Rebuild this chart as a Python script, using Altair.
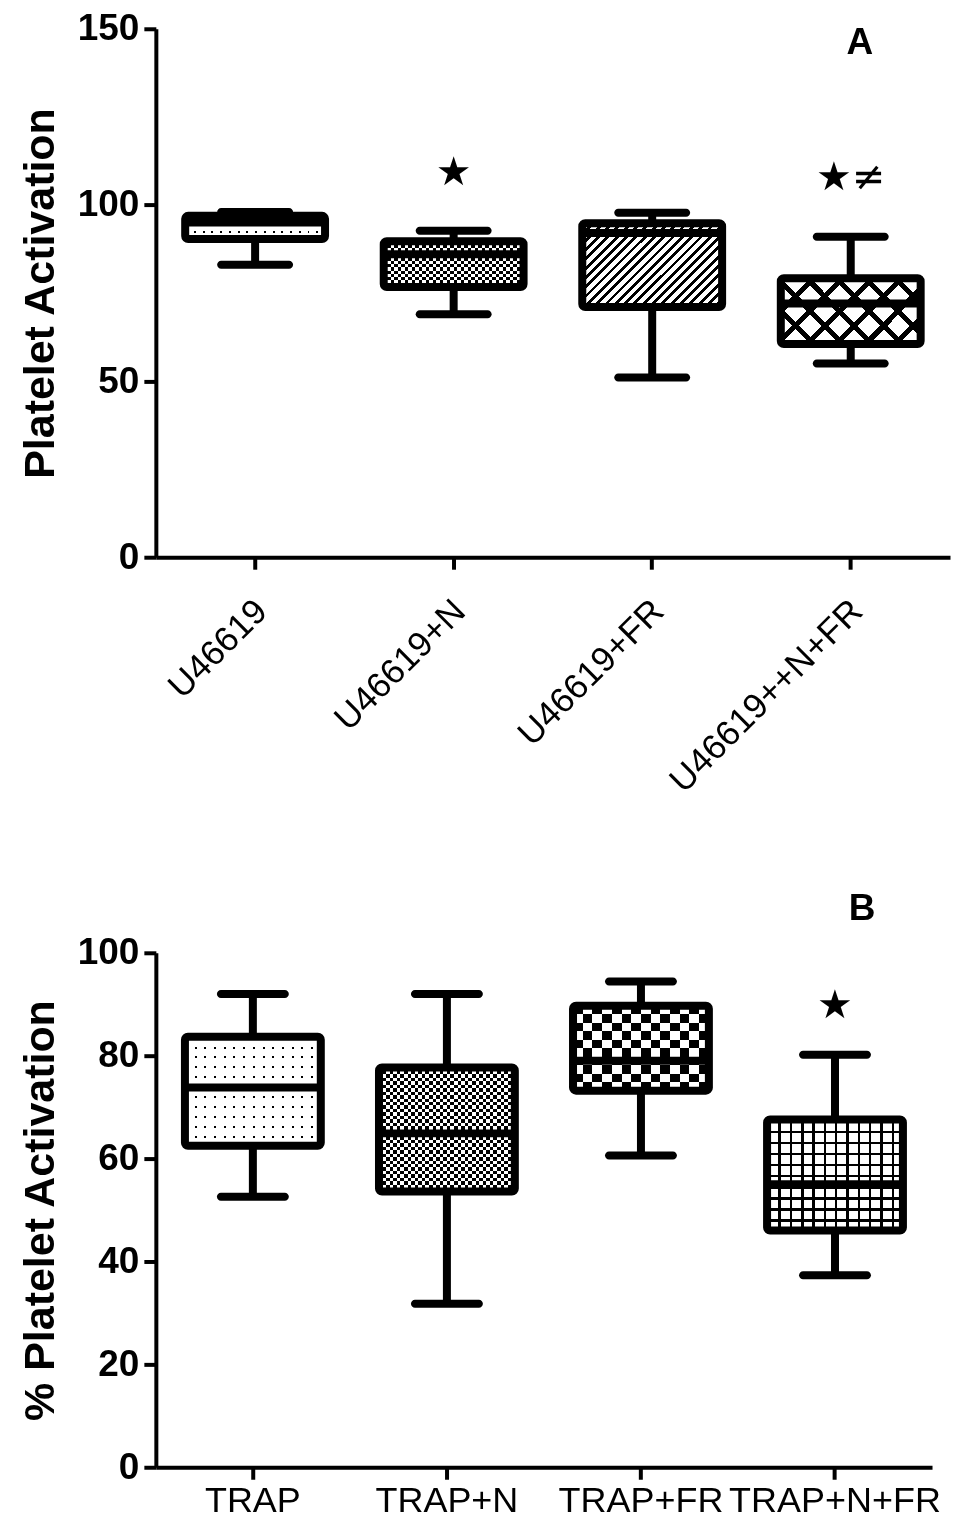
import altair as alt
import pandas as pd

# ---------------- data ----------------
top_groups = ["U46619", "U46619+N", "U46619+FR", "U46619++N+FR"]
top_low = [83, 69, 51, 55]
top_q1 = [90.3, 76.7, 71, 60.5]
top_median = [95, 86, 92, 72]
top_q3 = [96.9, 89.7, 94.8, 79.2]
top_high = [98, 92.7, 97.8, 91]
top_star_groups = ["U46619+N", "U46619++N+FR"]
top_star_values = [109, 107.5]
top_star_text = ["★", "★≠"]

bot_groups = ["TRAP", "TRAP+N", "TRAP+FR", "TRAP+N+FR"]
bot_low = [52.6, 31.8, 60.6, 37.3]
bot_q1 = [62.5, 53.6, 73.2, 46]
bot_median = [73.8, 64.9, 79, 55]
bot_q3 = [83.7, 77.7, 89.7, 67.6]
bot_high = [92, 92, 94.4, 80.2]
bot_star_groups = ["TRAP+N+FR"]
bot_star_values = [89.7]
bot_star_text = ["★"]

top_ticks = [0, 50, 100, 150]
bot_ticks = [0, 20, 40, 60, 80, 100]

FONT = "Liberation Sans"
LW = 8


# ---------------- fill patterns built from linear gradients ----------------
def stops(n, frac, on="black", off="white"):
    out = []
    for i in range(n):
        a = i / n
        b = (i + frac) / n
        c = (i + 1) / n
        out += [alt.GradientStop(offset=a, color=on), alt.GradientStop(offset=b, color=on),
                alt.GradientStop(offset=b, color=off), alt.GradientStop(offset=c, color=off)]
    return out


def grad(n, frac, direction, r=1.0, on="black", off="white"):
    if direction == "h":
        x1, y1, x2, y2 = 0, 0, 0, 1
    elif direction == "v":
        x1, y1, x2, y2 = 0, 0, 1, 0
    elif direction == "/":
        k = (1 + r) / (1 + r * r)
        x1, y1, x2, y2 = 0, 0, k, k * r
    else:
        k = (1 + r) / (1 + r * r)
        x1, y1, x2, y2 = 0, 1, k, 1 - k * r
    return alt.LinearGradient(gradient="linear", stops=stops(n, frac, on, off),
                              x1=x1, y1=y1, x2=x2, y2=y2)


top_fills = [
    (grad(3, 0.25, "h"), grad(16, 0.22, "v"), "lighten"),        # dots
    (grad(7, 0.5, "h"), grad(20, 0.5, "v"), "difference"),       # fine checker
    (grad(24, 0.42, "/", 0.6), None, None),                        # hatch
    (grad(7, 0.24, "/", 0.47), grad(7, 0.24, "\\", 0.47), "darken"),  # crosshatch
]
bot_fills = [
    (grad(11, 0.2, "h"), grad(14, 0.2, "v"), "lighten"),         # dots
    (grad(18, 0.5, "h"), grad(19, 0.5, "v"), "difference"),      # fine checker
    (grad(5, 0.5, "h"), grad(7, 0.5, "v"), "difference"),        # big checker
    (grad(10, 0.22, "h"), grad(12, 0.22, "v"), "darken"),        # grid
]


def panel(groups, low, q1, med, q3, high, fills, sg, sv, st, label, label_group, label_value,
          label_dx, ymax, yticks, ytitle, width, height, xangle, xfont, xpad, xoffset, boxw, capw):
    df = pd.DataFrame({"group": groups, "low": low, "q1": q1, "median": med,
                       "q3": q3, "high": high})
    xaxis = alt.Axis(title=None, labelAngle=xangle, labelFontSize=xfont, labelFont=FONT,
                     labelFontWeight="normal", labelPadding=xpad, labelOffset=xoffset,
                     domainWidth=4, domainColor="black", tickWidth=4, tickColor="black",
                     tickSize=12, labelColor="black", labelLimit=400)
    x = alt.X("group:N", sort=groups, scale=alt.Scale(paddingInner=0, paddingOuter=0),
              axis=xaxis)
    yaxis = alt.Axis(title=ytitle, values=yticks, labelFontSize=37, labelFontWeight="bold",
                     labelFont=FONT, titleFont=FONT, titleFontSize=43, titleFontWeight="bold",
                     titlePadding=15, labelPadding=5, domainWidth=4, domainColor="black",
                     tickWidth=4, tickColor="black", tickSize=12, labelColor="black",
                     titleColor="black", grid=False)
    ysc = alt.Scale(domain=[0, ymax], nice=False)

    def Y(field):
        return alt.Y(field, type="quantitative", scale=ysc, axis=yaxis)

    base = alt.Chart(df)
    layers = []
    for i, g in enumerate(groups):
        f0, f1, blend = fills[i]
        sub = base.transform_filter(alt.datum.group == g)
        layers.append(sub.mark_bar(fill=f0, size=boxw).encode(x=x, y=Y("q1"), y2="q3"))
        if f1 is not None:
            layers.append(sub.mark_bar(fill=f1, blend=blend, size=boxw)
                          .encode(x=x, y=Y("q1"), y2="q3"))
    # whiskers
    layers.append(base.mark_rule(color="black", strokeWidth=LW).encode(x=x, y=Y("q3"), y2="high"))
    layers.append(base.mark_rule(color="black", strokeWidth=LW).encode(x=x, y=Y("low"), y2="q1"))
    # caps
    layers.append(base.mark_tick(color="black", thickness=LW, size=capw, cornerRadius=4,
                                 opacity=1).encode(x=x, y=Y("high")))
    layers.append(base.mark_tick(color="black", thickness=LW, size=capw, cornerRadius=4,
                                 opacity=1).encode(x=x, y=Y("low")))
    # box outline
    layers.append(base.mark_bar(fillOpacity=0, stroke="black", strokeWidth=LW, cornerRadius=3,
                                size=boxw).encode(x=x, y=Y("q1"), y2="q3"))
    # median
    layers.append(base.mark_tick(color="black", thickness=LW, size=boxw, opacity=1)
                  .encode(x=x, y=Y("median")))
    # significance marks
    sdf = pd.DataFrame({"group": sg, "value": sv, "txt": st})
    layers.append(alt.Chart(sdf).mark_text(font="DejaVu Sans", fontSize=40, color="black",
                                           baseline="middle", align="center")
                  .encode(x=x, y=Y("value"), text="txt:N"))
    # panel letter
    ldf = pd.DataFrame({"group": [label_group], "value": [label_value], "txt": [label]})
    layers.append(alt.Chart(ldf).mark_text(font=FONT, fontSize=37, fontWeight="bold",
                                           color="black", baseline="middle", align="center",
                                           dx=label_dx)
                  .encode(x=x, y=Y("value"), text="txt:N"))
    return alt.layer(*layers).properties(width=width, height=height)


top = panel(top_groups, top_low, top_q1, top_median, top_q3, top_high, top_fills,
            top_star_groups, top_star_values, top_star_text, "A", "U46619++N+FR", 146, 9,
            150, top_ticks, "Platelet Activation", 795, 529, -45, 35, 24, -6, 140, 76)
bottom = panel(bot_groups, bot_low, bot_q1, bot_median, bot_q3, bot_high, bot_fills,
               bot_star_groups, bot_star_values, bot_star_text, "B", "TRAP+N+FR", 108.5, 27,
               100, bot_ticks, "% Platelet Activation", 777, 515, 0, 36, 4, 0, 136, 72)

chart = alt.VConcatChart(vconcat=[top, bottom], spacing=396, bounds="flush").properties(
    padding={"left": 11, "top": 1, "right": 2, "bottom": 2},
    background="white",
).configure_view(stroke=None)

chart.save("out.html", embed_options={"renderer": "svg", "actions": False})
